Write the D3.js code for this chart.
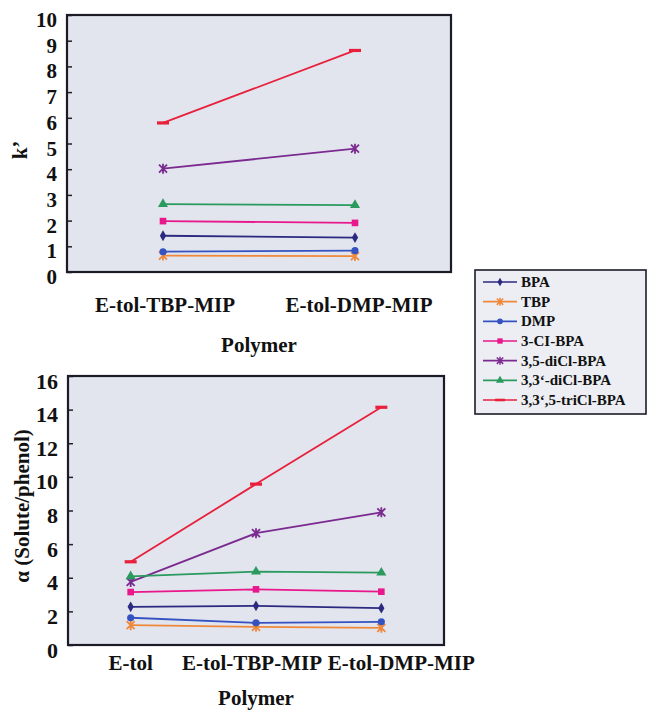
<!DOCTYPE html>
<html>
<head>
<meta charset="utf-8">
<script src="https://d3js.org/d3.v7.min.js"></script>
<style>
  body { margin: 0; background: #fff; }
  text { font-family: "Liberation Serif", "Times New Roman", serif; font-weight: bold; fill: #111; }
</style>
</head>
<body>
<script>
  // categories
  var topCategories = ["E-tol-TBP-MIP", "E-tol-DMP-MIP"];
  var bottomCategories = ["E-tol", "E-tol-TBP-MIP", "E-tol-DMP-MIP"];
  var seriesNames = ["BPA", "TBP", "DMP", "3-CI-BPA", "3,5-diCl-BPA", "3,3ʻ-diCl-BPA", "3,3ʻ,5-triCl-BPA"];

  // k' values (top chart)
  var kBPA = [1.41, 1.34];
  var kTBP = [0.64, 0.62];
  var kDMP = [0.79, 0.83];
  var kClBPA = [1.98, 1.91];
  var kDiClBPA35 = [4.02, 4.80];
  var kDiClBPA33 = [2.64, 2.60];
  var kTriClBPA = [5.80, 8.62];

  // alpha values (bottom chart)
  var aBPA = [2.27, 2.33, 2.19];
  var aTBP = [1.18, 1.08, 1.02];
  var aDMP = [1.62, 1.32, 1.38];
  var aClBPA = [3.15, 3.31, 3.17];
  var aDiClBPA35 = [3.75, 6.65, 7.89];
  var aDiClBPA33 = [4.08, 4.36, 4.30];
  var aTriClBPA = [4.95, 9.57, 14.14];

  var topTicks = [0, 1, 2, 3, 4, 5, 6, 7, 8, 9, 10];
  var bottomTicks = [0, 2, 4, 6, 8, 10, 12, 14, 16];

  var colors = ["#2b2a80", "#f0883a", "#3552c2", "#e8188c", "#7b2a90", "#2a9a5e", "#e8203c"];
  var markers = ["diamond", "star", "circle", "square", "star", "triangle", "dash"];

  var kSeries = [kBPA, kTBP, kDMP, kClBPA, kDiClBPA35, kDiClBPA33, kTriClBPA];
  var aSeries = [aBPA, aTBP, aDMP, aClBPA, aDiClBPA35, aDiClBPA33, aTriClBPA];

  var svg = d3.select("body").append("svg")
    .attr("width", 649)
    .attr("height", 712);

  function drawMarker(g, type, color) {
    if (type === "diamond") {
      g.append("path").attr("d", d3.symbol().type(d3.symbolDiamond).size(34)()).attr("fill", color);
    } else if (type === "circle") {
      g.append("path").attr("d", d3.symbol().type(d3.symbolCircle).size(40)()).attr("fill", color);
    } else if (type === "square") {
      g.append("path").attr("d", d3.symbol().type(d3.symbolSquare).size(44)()).attr("fill", color);
    } else if (type === "triangle") {
      g.append("path").attr("d", d3.symbol().type(d3.symbolTriangle).size(44)()).attr("fill", color);
    } else if (type === "dash") {
      g.append("rect").attr("x", -6).attr("y", -1.6).attr("width", 12).attr("height", 3.2).attr("fill", color);
    } else if (type === "star") {
      g.append("path")
        .attr("d", "M-4,-4L4,4M-4,4L4,-4M0,-5L0,5")
        .attr("stroke", color).attr("stroke-width", 1.8).attr("fill", "none");
    }
  }

  function drawChart(opts) {
    var x = d3.scalePoint().domain(opts.categories).range([opts.left, opts.right]).padding(0.5);
    var y = d3.scaleLinear().domain([0, opts.max]).range([opts.bottom, opts.top]);

    svg.append("rect")
      .attr("x", opts.left).attr("y", opts.top)
      .attr("width", opts.right - opts.left).attr("height", opts.bottom - opts.top)
      .attr("fill", "#e2e5ee");

    // y axis with inward ticks
    var yAxis = svg.append("g")
      .attr("transform", "translate(" + opts.left + ",0)")
      .call(d3.axisLeft(y).tickValues(opts.ticks).tickSize(-5).tickPadding(10));
    yAxis.select(".domain").remove();
    yAxis.selectAll("line").attr("stroke", "#222").attr("stroke-width", 1.5);
    yAxis.selectAll("text")
      .style("font-size", opts.tickFont + "px")
      .attr("dy", "0.55em")
      .attr("fill", "#111");

    // x labels
    svg.append("g").selectAll("text")
      .data(opts.categories)
      .enter().append("text")
      .attr("x", (d, i) => x(d) + opts.labelShift[i])
      .attr("y", opts.labelY)
      .attr("text-anchor", "middle")
      .style("font-size", "21px")
      .text(d => d);

    // series
    opts.series.forEach(function (vals, s) {
      var line = d3.line()
        .x((d, i) => x(opts.categories[i]))
        .y(d => y(d));
      svg.append("path")
        .datum(vals)
        .attr("d", line)
        .attr("fill", "none")
        .attr("stroke", colors[s])
        .attr("stroke-width", 1.8);
      vals.forEach(function (v, i) {
        var g = svg.append("g")
          .attr("transform", "translate(" + x(opts.categories[i]) + "," + y(v) + ")");
        drawMarker(g, markers[s], colors[s]);
      });
    });

    // frame
    svg.append("rect")
      .attr("x", opts.left).attr("y", opts.top)
      .attr("width", opts.right - opts.left).attr("height", opts.bottom - opts.top)
      .attr("fill", "none")
      .attr("stroke", "#1c1c28")
      .attr("stroke-width", 2.2);

    // axis titles
    svg.append("text")
      .attr("x", (opts.left + opts.right) / 2)
      .attr("y", opts.titleY)
      .attr("text-anchor", "middle")
      .style("font-size", "21px")
      .text("Polymer");

    svg.append("text")
      .attr("transform", "translate(" + opts.yTitleX + "," + opts.yTitleY + ") rotate(-90)")
      .attr("text-anchor", "middle")
      .style("font-size", "21px")
      .text(opts.yTitle);
  }

  drawChart({
    categories: topCategories, series: kSeries, max: 10, ticks: topTicks,
    left: 67, right: 451, top: 15, bottom: 272, tickFont: 21,
    labelY: 312, labelShift: [2, 4], titleY: 352,
    yTitle: "k’", yTitleX: 27, yTitleY: 150
  });

  drawChart({
    categories: bottomCategories, series: aSeries, max: 16, ticks: bottomTicks,
    left: 68, right: 444, top: 376, bottom: 645, tickFont: 22,
    labelY: 670, labelShift: [0, -4, 20], titleY: 705,
    yTitle: "α (Solute/phenol)", yTitleX: 29, yTitleY: 506
  });

  // legend
  var legend = svg.append("g").attr("transform", "translate(475,270)");
  legend.append("rect")
    .attr("width", 171).attr("height", 144)
    .attr("fill", "#eceef3")
    .attr("stroke", "#1c1c28").attr("stroke-width", 1.6);

  var ly = d3.scalePoint().domain(seriesNames).range([12, 130]);
  seriesNames.forEach(function (name, s) {
    var row = legend.append("g").attr("transform", "translate(0," + ly(name) + ")");
    row.append("line")
      .attr("x1", 8).attr("x2", 42)
      .attr("stroke", colors[s]).attr("stroke-width", 1.6);
    var m = row.append("g").attr("transform", "translate(25,0) scale(0.8)");
    drawMarker(m, markers[s], colors[s]);
    row.append("text")
      .attr("x", 46).attr("y", 5)
      .style("font-size", "15px")
      .text(name);
  });
</script>
</body>
</html>
